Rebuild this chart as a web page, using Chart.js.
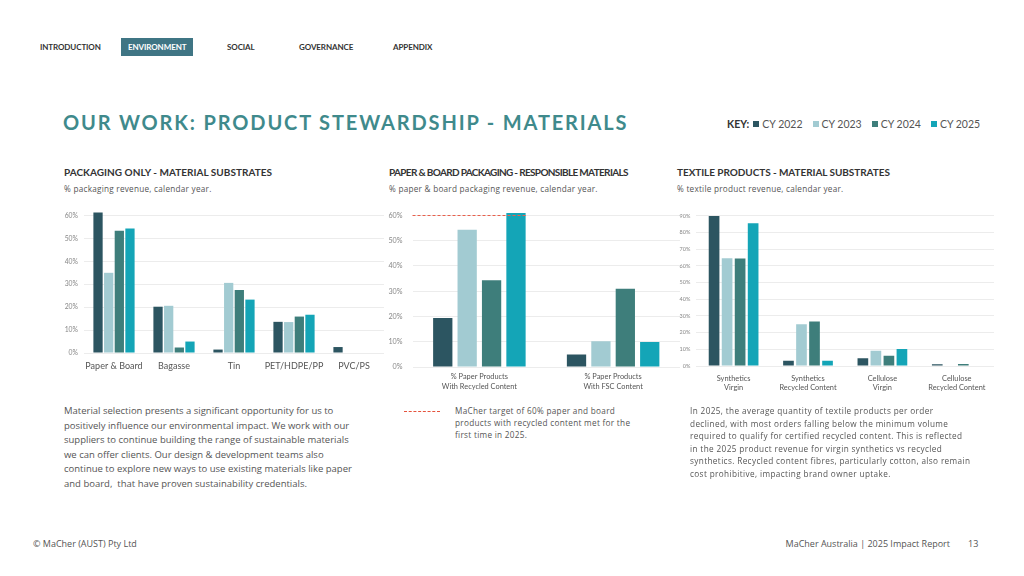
<!DOCTYPE html>
<html>
<head>
<meta charset="utf-8">
<script src="https://cdn.jsdelivr.net/npm/chart.js@4.4.1/dist/chart.umd.min.js"></script>
<style>
  html,body{margin:0;padding:0;background:#fff;}
  body{width:1024px;height:576px;position:relative;overflow:hidden;font-family:"Lato","Open Sans",sans-serif;color:#444;}
  .abs{position:absolute;white-space:nowrap;}
  .nav{font-size:8px;font-weight:700;color:#333;top:42px;letter-spacing:-0.1px;}
  .navsel{background:#3f7584;color:#fff;top:38px;height:18px;line-height:18px;padding:0 7px;}
  .title{left:63px;top:110px;font-size:20px;font-weight:700;color:#3f8a8c;letter-spacing:1.85px;}
  .key{top:118px;font-size:10.5px;color:#555;}
  .sq{display:inline-block;width:6px;height:6px;margin-right:3px;vertical-align:1px;}
  .h{font-size:10px;font-weight:700;color:#333;top:166px;}
  .sub{font-family:"Open Sans",sans-serif;font-size:8.2px;letter-spacing:0.25px;color:#555;top:183px;}
  canvas{position:absolute;}
  .p{position:absolute;white-space:nowrap;font-family:"Open Sans",sans-serif;color:#555;}
  .foot{font-family:"Open Sans",sans-serif;font-size:9px;color:#555;top:537px;}
</style>
</head>
<body>
<div class="abs nav" style="left:40px;">INTRODUCTION</div>
<div class="abs nav navsel" style="left:121px;">ENVIRONMENT</div>
<div class="abs nav" style="left:227px;">SOCIAL</div>
<div class="abs nav" style="left:299px;">GOVERNANCE</div>
<div class="abs nav" style="left:393px;">APPENDIX</div>

<div class="abs title">OUR WORK: PRODUCT STEWARDSHIP - MATERIALS</div>
<div class="abs key" id="key" style="left:727px;"></div>

<div class="abs h" style="left:64px;letter-spacing:0.03px;">PACKAGING ONLY - MATERIAL SUBSTRATES</div>
<div class="abs sub" style="left:64px;">% packaging revenue, calendar year.</div>
<div class="abs h" style="left:389px;letter-spacing:-0.66px;">PAPER &amp; BOARD PACKAGING - RESPONSIBLE MATERIALS</div>
<div class="abs sub" style="left:389px;">% paper &amp; board packaging revenue, calendar year.</div>
<div class="abs h" style="left:677px;letter-spacing:-0.06px;">TEXTILE PRODUCTS - MATERIAL SUBSTRATES</div>
<div class="abs sub" style="left:677px;">% textile product revenue, calendar year.</div>

<canvas id="c1" style="left:56px;top:202px;width:328px;height:172px;" width="328" height="172"></canvas>
<canvas id="c2" style="left:385px;top:196px;width:295px;height:202px;" width="295" height="202"></canvas>
<canvas id="c3" style="left:670px;top:205px;width:325px;height:190px;" width="325" height="190"></canvas>

<div class="p" style="left:64px;top:404px;font-size:9.5px;line-height:14.5px;">Material selection presents a significant opportunity for us to<br>positively influence our environmental impact. We work with our<br>suppliers to continue building the range of sustainable materials<br>we can offer clients. Our design &amp; development teams also<br>continue to explore new ways to use existing materials like paper<br>and board,&nbsp; that have proven sustainability credentials.</div>

<div class="abs" style="left:404px;top:411px;width:36px;border-top:1px dashed #e5533d;"></div>
<div class="p" style="left:455px;top:405px;font-size:8.2px;line-height:12.2px;letter-spacing:0.3px;">MaCher target of 60% paper and board<br>products with recycled content met for the<br>first time in 2025.</div>

<div class="p" style="left:690px;top:405px;font-size:8.2px;line-height:12.5px;letter-spacing:0.38px;">In 2025, the average quantity of textile products per order<br>declined, with most orders falling below the minimum volume<br>required to qualify for certified recycled content. This is reflected<br>in the 2025 product revenue for virgin synthetics vs recycled<br>synthetics. Recycled content fibres, particularly cotton, also remain<br>cost prohibitive, impacting brand owner uptake.</div>

<div class="abs foot" style="left:33px;">© MaCher (AUST) Pty Ltd</div>
<div class="abs foot" style="right:74px;">MaCher Australia | 2025 Impact Report</div>
<div class="abs foot" style="left:968px;">13</div>

<script>
// ---- data ----
const years = ["CY 2022", "CY 2023", "CY 2024", "CY 2025"];
const yearColors = ["#2c5561", "#a2cbd2", "#3e7e7b", "#14a5b7"];

const packagingCategories = ["Paper & Board", "Bagasse", "Tin", "PET/HDPE/PP", "PVC/PS"];
const packaging2022 = [61.3, 20.2, 1.5, 13.6, 2.6];
const packaging2023 = [35.0, 20.6, 30.6, 13.5, 0];
const packaging2024 = [53.4, 2.4, 27.5, 15.9, 0];
const packaging2025 = [54.3, 5.0, 23.3, 16.7, 0];

const paperCategories = [["% Paper Products", "With Recycled Content"], ["% Paper Products", "With FSC Content"]];
const paper2022 = [19.4, 4.9];
const paper2023 = [54.3, 10.2];
const paper2024 = [34.3, 31.0];
const paper2025 = [60.9, 9.9];
const paperTarget = 60;

const textileCategories = [["Synthetics", "Virgin"], ["Synthetics", "Recycled Content"], ["Cellulose", "Virgin"], ["Cellulose", "Recycled Content"]];
const textile2022 = [90.0, 3.2, 4.6, 1.0];
const textile2023 = [64.6, 25.1, 9.2, 0];
const textile2024 = [64.5, 26.7, 6.2, 1.2];
const textile2025 = [85.6, 3.2, 10.2, 0];

// ---- key ----
const keyEl = document.getElementById('key');
keyEl.innerHTML = '<b style="color:#333;margin-right:4px;">KEY:</b>' + years.map((y,i)=>
  '<span style="margin-right:10px;"><span class="sq" style="background:'+yearColors[i]+'"></span>'+y+'</span>').join('');

Chart.defaults.font.family = "Lato, 'Open Sans', sans-serif";
Chart.defaults.color = "#666";
Chart.defaults.animation = false;

function makeDatasets(arrs, bp, cp){
  return arrs.map((d,i)=>({label: years[i], data: d, backgroundColor: yearColors[i],
    barPercentage: bp, categoryPercentage: cp}));
}

function makeChart(id, labels, datasets, opts){
  return new Chart(document.getElementById(id), {
    type: 'bar',
    data: {labels, datasets},
    options: {
      responsive: false,
      layout: {padding: {top: opts.padTop, right: opts.padRight, left: 0, bottom: 0}},
      plugins: {legend: {display: false}, tooltip: {enabled: false}},
      scales: {
        x: {
          grid: {display: false, drawTicks: false}, border: {display: false},
          ticks: {font: {size: opts.xFont, lineHeight: opts.xLH}, color: '#555', padding: opts.xPad, maxRotation: 0, autoSkip: false},
          afterFit: s => { s.height = opts.xHeight; }
        },
        y: {
          min: 0, max: opts.yMax,
          grid: {color: '#ececec', lineWidth: 1, drawTicks: false},
          border: {display: false},
          ticks: {stepSize: 10, includeBounds: false, font: {size: opts.yFont}, color: '#888',
                  padding: opts.yPad, callback: v => v + '%'},
          afterFit: s => { s.width = opts.yWidth; }
        }
      }
    },
    plugins: opts.plugins || []
  });
}

makeChart('c1', packagingCategories,
  makeDatasets([packaging2022, packaging2023, packaging2024, packaging2025], 0.87, 0.71),
  {padTop: 4, padRight: 0, xFont: 9, xLH: 1.2, xPad: 8, xHeight: 21, yMax: 61.5, yFont: 6.8, yPad: 6, yWidth: 28});

const targetLine = {
  id: 'targetLine',
  afterDatasetsDraw(chart){
    const {ctx, chartArea, scales} = chart;
    const y = Math.round(scales.y.getPixelForValue(paperTarget)) + 0.5;
    const bar = chart.getDatasetMeta(3).data[0];
    const xr = bar.x + bar.width/2;
    ctx.save();
    ctx.strokeStyle = '#e8604c';
    ctx.lineWidth = 1;
    ctx.setLineDash([3,2]);
    ctx.beginPath();
    ctx.moveTo(chartArea.left, y);
    ctx.lineTo(xr, y);
    ctx.stroke();
    ctx.restore();
  }
};

makeChart('c2', paperCategories,
  makeDatasets([paper2022, paper2023, paper2024, paper2025], 0.79, 0.73),
  {padTop: 2, padRight: 0, xFont: 7.4, xLH: 1.35, xPad: 5, xHeight: 31, yMax: 62, yFont: 7.2, yPad: 10, yWidth: 27.5, plugins: [targetLine]});

makeChart('c3', textileCategories,
  makeDatasets([textile2022, textile2023, textile2024, textile2025], 0.82, 0.70),
  {padTop: 5, padRight: 1, xFont: 7.4, xLH: 1.25, xPad: 8, xHeight: 29, yMax: 91, yFont: 5.5, yPad: 6, yWidth: 26.4});
</script>
</body>
</html>
